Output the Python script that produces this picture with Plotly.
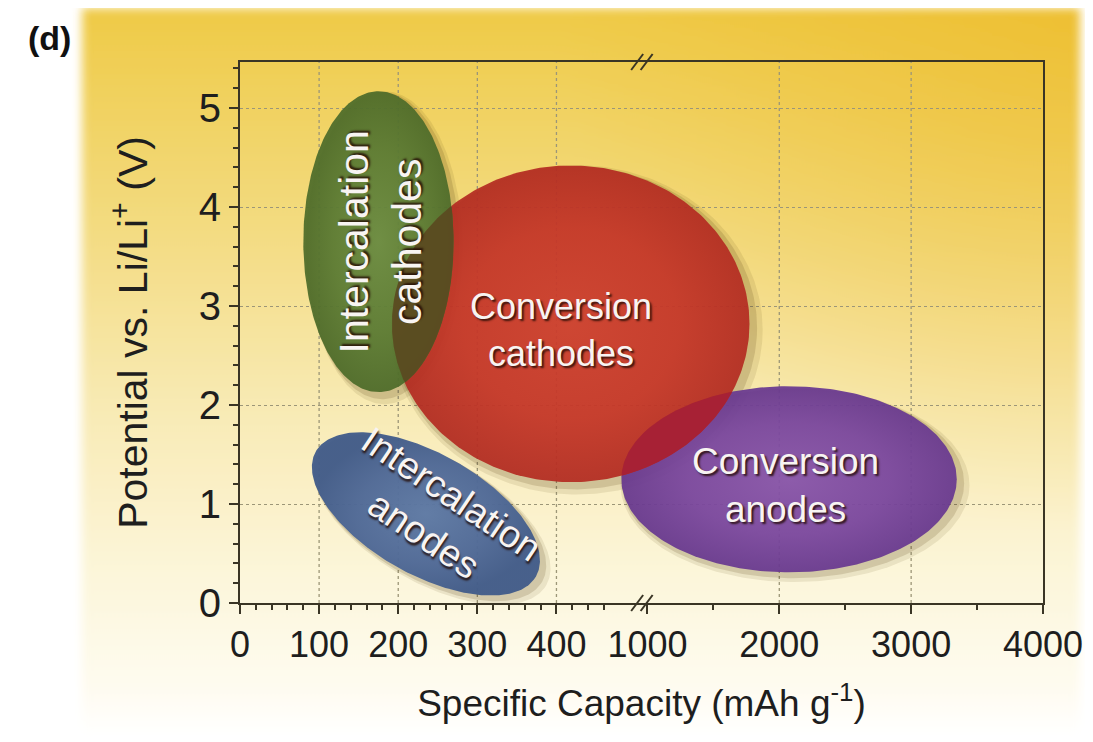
import base64
import numpy as np
import plotly.graph_objects as go

# ---------------- data ----------------
# capacity axis is broken: 0-400 mAh/g linear, then 1000-4000 mAh/g compressed
cap_tick_values = [0, 100, 200, 300, 400, 1000, 2000, 3000, 4000]
cap_tick_labels = ["0", "100", "200", "300", "400", "1000", "2000", "3000", "4000"]
cap_minor_values = [20, 40, 60, 80, 120, 140, 160, 180, 220, 240, 260, 280,
                    320, 340, 360, 380, 420, 440, 460, 1500, 2500, 3500]
cap_grid_values = [100, 200, 300, 400, 2000, 3000]
pot_tick_values = [0, 1, 2, 3, 4, 5]

# material regions (positions on the plotted capacity axis / potential in V)
region_names = ["Intercalation cathodes", "Conversion cathodes",
                "Conversion anodes", "Intercalation anodes"]
region_labels = ["Intercalation<br>cathodes", "Conversion<br>cathodes",
                 "Conversion<br>anodes", "Intercalation<br>anodes"]
region_cap_center = [175, 418, 694, 235]
region_pot_center = [3.65, 2.82, 1.25, 0.90]
region_cap_half = [95, 226, 212, 160]
region_pot_half = [1.52, 1.60, 0.94, 0.61]
region_tilt = [0, 0, 0, -29.6]
region_label_cap = [178, 406, 690, 250]
region_label_pot = [3.65, 2.76, 1.19, 0.89]
region_label_angle = [-90, 0, 0, 34]

# ---------------- styling / geometry helpers ----------------
W, H = 1093, 742
SHIFT = 8  # page body margin compensation
X_PIX = (240 - SHIFT, 1043 - SHIFT)
Y_PIX = (62 - SHIFT, 603 - SHIFT)
BREAK_U, RIGHT_U0, RIGHT_SCALE = 500, 515, 1.0 / 6.0
X_MAX_U = RIGHT_U0 + (4000 - 1000) * RIGHT_SCALE
Y_MAX = 5.465
PX_PER_U = (X_PIX[1] - X_PIX[0]) / X_MAX_U
PX_PER_V = (Y_PIX[1] - Y_PIX[0]) / Y_MAX
ASPECT = PX_PER_V / PX_PER_U


def cap_to_u(v):
    return v if v <= BREAK_U else RIGHT_U0 + (v - 1000) * RIGHT_SCALE


def ellipse_xy(cx, cy, hx, hy, tilt, n=300, grow=1.0):
    t = np.linspace(0, 2 * np.pi, n)
    a, b = hx * grow, hy * ASPECT * grow
    th = np.radians(tilt)
    du = a * np.cos(t) * np.cos(th) - b * np.sin(t) * np.sin(th)
    dv = a * np.cos(t) * np.sin(th) + b * np.sin(t) * np.cos(th)
    return cx + du, cy + dv / ASPECT


def inside(x, y, i):
    th = np.radians(region_tilt[i])
    du = x - region_cap_center[i]
    dv = (y - region_pot_center[i]) * ASPECT
    p = du * np.cos(th) + dv * np.sin(th)
    q = -du * np.sin(th) + dv * np.cos(th)
    return (p / region_cap_half[i]) ** 2 + (q / (region_pot_half[i] * ASPECT)) ** 2 <= 1.0


def geom(i, **kw):
    return ellipse_xy(region_cap_center[i], region_pot_center[i],
                      region_cap_half[i], region_pot_half[i], region_tilt[i], **kw)


def intersection(i, j):
    xa, ya = geom(i, n=600)
    xb, yb = geom(j, n=600)
    ma, mb = inside(xa, ya, j), inside(xb, yb, i)
    xs = np.concatenate([xa[ma], xb[mb]])
    ys = np.concatenate([ya[ma], yb[mb]])
    mx, my = xs.mean(), ys.mean()
    order = np.argsort(np.arctan2((ys - my) * ASPECT, xs - mx))
    xs, ys = xs[order], ys[order]
    return np.append(xs, xs[0]), np.append(ys, ys[0])


fill_scales = [
    [[0, "rgba(106,140,66,0.94)"], [0.6, "rgba(92,124,52,0.94)"], [1, "rgba(78,108,42,0.94)"]],
    [[0, "rgba(206,62,46,0.93)"], [0.6, "rgba(198,54,40,0.93)"], [1, "rgba(180,44,34,0.93)"]],
    [[0, "rgba(136,84,172,0.93)"], [0.6, "rgba(122,70,160,0.93)"], [1, "rgba(104,56,144,0.93)"]],
    [[0, "rgba(94,122,166,0.96)"], [0.6, "rgba(80,106,152,0.96)"], [1, "rgba(66,92,138,0.96)"]],
]
overlaps = [(0, 1, "rgba(90,74,32,0.93)"), (1, 2, "rgba(166,32,54,0.93)")]
draw_order = [2, 1, 0, 3]

fig = go.Figure()

# soft drop shadows
for i in draw_order:
    for grow, alpha, off in [(1.04, 0.10, 6), (1.02, 0.16, 4)]:
        x, y = geom(i, grow=grow)
        fig.add_trace(go.Scatter(
            x=x + off / PX_PER_U, y=y - off / PX_PER_V,
            mode="lines", fill="toself", line=dict(width=0),
            fillcolor=f"rgba(80,55,10,{alpha})", hoverinfo="skip", showlegend=False))

for i in draw_order:
    x, y = geom(i)
    fig.add_trace(go.Scatter(
        x=x, y=y, mode="lines", fill="toself", line=dict(width=0),
        fillgradient=dict(type="radial", colorscale=fill_scales[i]),
        name=region_names[i], hoverinfo="name", showlegend=False))

for i, j, col in overlaps:
    x, y = intersection(i, j)
    fig.add_trace(go.Scatter(x=x, y=y, mode="lines", fill="toself", line=dict(width=0),
                             fillcolor=col, hoverinfo="skip", showlegend=False))

label_font = dict(family="Liberation Sans, Arial, sans-serif", color="#f8f4f2",
                  shadow="2px 2px 2px rgba(35,12,5,0.85)")
label_sizes = [41, 36, 37, 38]
for i in range(len(region_names)):
    fig.add_annotation(x=region_label_cap[i], y=region_label_pot[i], xref="x", yref="y",
                       text=region_labels[i], showarrow=False, textangle=region_label_angle[i],
                       font=dict(size=label_sizes[i], **label_font))

# vertical dotted grid lines (not at the break)
for v in cap_grid_values:
    fig.add_shape(type="line", xref="x", yref="y domain", x0=cap_to_u(v), x1=cap_to_u(v),
                  y0=0, y1=1, layer="below", line=dict(color="#9c9678", width=1.3, dash="dot"))

# axis break marks
for yd in (0, 1):
    for ub in (cap_to_u(BREAK_U) + 2, cap_to_u(1000) - 1):
        fig.add_shape(type="line", xref="x", yref="y domain", xsizemode="pixel",
                      ysizemode="pixel", xanchor=ub, yanchor=yd, x0=-6, x1=6, y0=-8, y1=8,
                      line=dict(color="#3a3525", width=2))

# background panel (gradient)
px0, py0 = 82 - SHIFT, 8 - SHIFT
svg = f'''<svg xmlns="http://www.w3.org/2000/svg" width="{W}" height="{H}" viewBox="0 0 {W} {H}">
<defs>
<linearGradient id="v" x1="0" y1="0" x2="0" y2="1">
<stop offset="0" stop-color="#efca46"/>
<stop offset="0.3" stop-color="#f3db80"/>
<stop offset="0.55" stop-color="#f8eab4"/>
<stop offset="0.78" stop-color="#fcf6da"/>
<stop offset="0.93" stop-color="#fefbef"/>
<stop offset="1" stop-color="#ffffff"/>
</linearGradient>
<radialGradient id="r" cx="{1080 - SHIFT}" cy="0" r="520" gradientUnits="userSpaceOnUse">
<stop offset="0" stop-color="#ecb722" stop-opacity="0.55"/>
<stop offset="1" stop-color="#ecb722" stop-opacity="0"/>
</radialGradient>
<filter id="b" x="-5%" y="-5%" width="110%" height="110%"><feGaussianBlur stdDeviation="5"/></filter>
</defs>
<g filter="url(#b)">
<rect x="{px0}" y="{py0}" width="998" height="728" fill="url(#v)"/>
<rect x="{px0}" y="{py0}" width="998" height="728" fill="url(#r)"/>
</g>
</svg>'''
src = "data:image/svg+xml;base64," + base64.b64encode(svg.encode()).decode()
fig.add_layout_image(source=src, xref="paper", yref="paper", x=0, y=1, sizex=1, sizey=1,
                     sizing="stretch", xanchor="left", yanchor="top", layer="below")

fig.add_annotation(x=(26 - SHIFT) / W, y=1 - (17 - SHIFT) / H, xref="paper", yref="paper",
                   text="<b>(d)</b>", xanchor="left", yanchor="top", showarrow=False,
                   font=dict(size=34, color="#111111", family="Liberation Sans, Arial, sans-serif"))

axis_font = dict(family="Liberation Sans, Arial, sans-serif", color="#1e1e1e")
fig.update_layout(
    width=W, height=H, margin=dict(l=0, r=0, t=0, b=0, autoexpand=False),
    paper_bgcolor="white", plot_bgcolor="rgba(0,0,0,0)", showlegend=False,
    xaxis=dict(domain=[X_PIX[0] / W, X_PIX[1] / W], range=[0, X_MAX_U], automargin=False,
               tickmode="array", tickvals=[cap_to_u(v) for v in cap_tick_values],
               ticktext=cap_tick_labels, ticks="outside", ticklen=9, tickwidth=2,
               tickcolor="#3a3525", showgrid=False, zeroline=False,
               showline=True, linecolor="#3a3525", linewidth=2, mirror=True,
               tickfont=dict(size=36, **axis_font),
               minor=dict(tickmode="array", tickvals=[cap_to_u(v) for v in cap_minor_values],
                          ticks="outside", ticklen=5, tickwidth=1.5, tickcolor="#3a3525",
                          showgrid=False),
               title=dict(text="Specific Capacity (mAh g<sup>-1</sup>)",
                          font=dict(size=37, **axis_font), standoff=26)),
    yaxis=dict(domain=[1 - Y_PIX[1] / H, 1 - Y_PIX[0] / H], range=[0, Y_MAX], automargin=False,
               tickmode="array", tickvals=pot_tick_values, ticks="outside", ticklen=9,
               tickwidth=2, tickcolor="#3a3525", showgrid=True, gridcolor="#9c9678",
               gridwidth=1.3, griddash="dot", zeroline=False,
               showline=True, linecolor="#3a3525", linewidth=2, mirror=True,
               tickfont=dict(size=40, **axis_font),
               minor=dict(dtick=0.2, tick0=0, ticks="outside", ticklen=5, tickwidth=1.5,
                          tickcolor="#3a3525", showgrid=False),
               title=dict(text="Potential vs. Li/Li<sup>+</sup> (V)",
                          font=dict(size=41, **axis_font), standoff=38)),
)

fig.write_html("out.html")
